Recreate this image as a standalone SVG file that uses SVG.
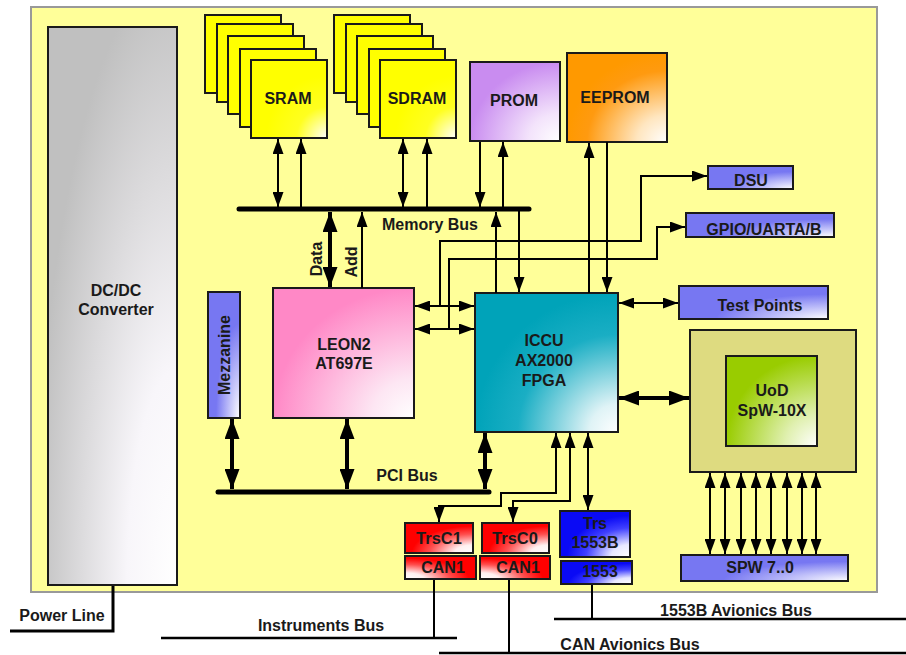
<svg xmlns="http://www.w3.org/2000/svg" width="906" height="655" viewBox="0 0 906 655">
<style>
.t{font-family:"Liberation Sans",Arial,sans-serif;font-weight:bold;font-size:16px;fill:#1a1a1a;text-anchor:middle}
.tb{font-size:16.5px}
.box{stroke:#1a1a1a;stroke-width:2}
.ln{fill:none;stroke:#000;stroke-width:2}
.thk{fill:none;stroke:#000;stroke-width:4}
.bus{fill:none;stroke:#000;stroke-width:5;stroke-linecap:round}
</style>
<defs>
<marker id="ah" viewBox="0 0 15 11" refX="15" refY="5.5" markerWidth="15" markerHeight="11" markerUnits="userSpaceOnUse" orient="auto-start-reverse"><path d="M0,0 L15,5.5 L0,11 z" fill="#000"/></marker>
<marker id="AH" viewBox="0 0 20 15" refX="20" refY="7.5" markerWidth="20" markerHeight="15" markerUnits="userSpaceOnUse" orient="auto-start-reverse"><path d="M0,0 L20,7.5 L0,15 z" fill="#000"/></marker>
<radialGradient id="gY" cx="1" cy="1" r="0.8"><stop offset="0" stop-color="#fff"/><stop offset="0.5" stop-color="#ffff20"/><stop offset="1" stop-color="#ffff00"/></radialGradient>
<radialGradient id="gP" cx="1" cy="1" r="1"><stop offset="0" stop-color="#fff"/><stop offset="0.35" stop-color="#f3e3fb"/><stop offset="1" stop-color="#c98cf0"/></radialGradient>
<radialGradient id="gO" cx="1" cy="1" r="1"><stop offset="0" stop-color="#fff"/><stop offset="0.3" stop-color="#ffe6c0"/><stop offset="0.8" stop-color="#ff9a10"/><stop offset="1" stop-color="#ff9900"/></radialGradient>
<radialGradient id="gK" cx="1" cy="1" r="1"><stop offset="0" stop-color="#fff"/><stop offset="0.3" stop-color="#fde6f3"/><stop offset="1" stop-color="#ff88c6"/></radialGradient>
<radialGradient id="gT" cx="1" cy="1" r="1"><stop offset="0" stop-color="#fff"/><stop offset="0.2" stop-color="#dff3f6"/><stop offset="0.7" stop-color="#1aaec4"/><stop offset="1" stop-color="#00a3b9"/></radialGradient>
<radialGradient id="gG" cx="1" cy="1" r="1.1"><stop offset="0" stop-color="#fff"/><stop offset="0.35" stop-color="#f8f6fa"/><stop offset="1" stop-color="#c0c0c0"/></radialGradient>
<radialGradient id="gU" cx="1" cy="1" r="1"><stop offset="0" stop-color="#fff"/><stop offset="0.35" stop-color="#e0f0b0"/><stop offset="1" stop-color="#99cc00"/></radialGradient>
<radialGradient id="gB" cx="1" cy="1" r="0.75"><stop offset="0" stop-color="#fff"/><stop offset="0.4" stop-color="#c8c8fa"/><stop offset="1" stop-color="#7777f2"/></radialGradient>
<radialGradient id="gR" cx="1" cy="1" r="0.9"><stop offset="0" stop-color="#fff"/><stop offset="0.3" stop-color="#fff0f0"/><stop offset="0.7" stop-color="#ff5050"/><stop offset="1" stop-color="#ff0000"/></radialGradient>
<radialGradient id="gRL" cx="0" cy="1" r="0.9"><stop offset="0" stop-color="#fff"/><stop offset="0.3" stop-color="#fff0f0"/><stop offset="0.7" stop-color="#ff5050"/><stop offset="1" stop-color="#ff0000"/></radialGradient>
<radialGradient id="gBB" cx="1" cy="1" r="0.9"><stop offset="0" stop-color="#fff"/><stop offset="0.3" stop-color="#e8e8ff"/><stop offset="0.7" stop-color="#4040ff"/><stop offset="1" stop-color="#0a0af5"/></radialGradient>
</defs>

<rect x="31" y="7" width="846" height="585" fill="#ffff99" stroke="#999" stroke-width="2"/>

<g id="dcdc"><rect class="box" x="48" y="27" width="129" height="558" fill="url(#gG)"/><text class="t" x="116" y="296">DC/DC</text><text class="t" x="116" y="315">Converter</text></g>

<g id="sram">
<rect class="box" x="205" y="15" width="76" height="78" fill="#ffff00"/>
<rect class="box" x="217" y="24" width="76" height="78" fill="#ffff00"/>
<rect class="box" x="228" y="36" width="76" height="78" fill="#ffff00"/>
<rect class="box" x="240" y="49" width="76" height="78" fill="#ffff00"/>
<rect class="box" x="251" y="60" width="76" height="78" fill="url(#gY)"/>
<text class="t" x="288" y="104">SRAM</text></g>

<g id="sdram">
<rect class="box" x="334" y="15" width="76" height="78" fill="#ffff00"/>
<rect class="box" x="346" y="24" width="76" height="78" fill="#ffff00"/>
<rect class="box" x="357" y="36" width="76" height="78" fill="#ffff00"/>
<rect class="box" x="369" y="49" width="76" height="78" fill="#ffff00"/>
<rect class="box" x="380" y="60" width="76" height="78" fill="url(#gY)"/>
<text class="t" x="417" y="104">SDRAM</text></g>

<g id="prom"><rect class="box" x="470" y="62" width="90" height="79" fill="url(#gP)"/><text class="t" x="514" y="106">PROM</text></g>
<g id="eeprom"><rect class="box" x="567" y="53" width="100" height="89" fill="url(#gO)"/><text class="t" x="615" y="103">EEPROM</text></g>
<g id="dsu"><rect class="box" x="708" y="166" width="85" height="23" fill="url(#gB)"/><text class="t" x="751" y="186">DSU</text></g>
<g id="gpio"><rect class="box" x="686" y="213" width="148" height="24" fill="url(#gB)"/><text class="t" x="764" y="235">GPIO/UARTA/B</text></g>
<g id="testpoints"><rect class="box" x="679" y="286" width="149" height="33" fill="url(#gB)"/><text class="t" x="760" y="311">Test Points</text></g>

<g id="uod"><rect class="box" x="690" y="330" width="166" height="142" fill="#dedb80"/><rect class="box" x="726" y="356" width="91" height="90" fill="url(#gU)"/><text class="t" x="772" y="396">UoD</text><text class="t" x="772" y="416">SpW-10X</text></g>

<g id="spw"><rect class="box" x="681" y="555" width="167" height="26" fill="url(#gB)"/><text class="t" x="760" y="573">SPW 7..0</text></g>

<g id="mezzanine"><rect class="box" x="208" y="292" width="32" height="126" fill="url(#gB)"/><text class="t" transform="translate(230,355) rotate(-90)" x="0" y="0">Mezzanine</text></g>

<g id="leon2"><rect class="box" x="273" y="288" width="141" height="130" fill="url(#gK)"/><text class="t" x="344" y="350">LEON2</text><text class="t" x="344" y="369">AT697E</text></g>

<g id="iccu"><rect class="box" x="475" y="293" width="143" height="139" fill="url(#gT)"/><text class="t" x="544" y="346">ICCU</text><text class="t" x="544" y="366">AX2000</text><text class="t" x="544" y="386">FPGA</text></g>

<g id="trsc1"><rect class="box" x="405" y="523" width="68" height="30" fill="url(#gR)"/><text class="t tb" x="439" y="544">TrsC1</text></g>
<g id="can1a"><rect class="box" x="405" y="556" width="71" height="23" fill="url(#gRL)"/><text class="t" x="443" y="573">CAN1</text></g>
<g id="trsc0"><rect class="box" x="482" y="523" width="67" height="30" fill="url(#gR)"/><text class="t tb" x="515" y="544">TrsC0</text></g>
<g id="can1b"><rect class="box" x="480" y="556" width="70" height="23" fill="url(#gRL)"/><text class="t" x="518" y="573">CAN1</text></g>
<g id="trs1553b"><rect class="box" x="560" y="511" width="70" height="46" fill="url(#gBB)"/><text class="t" x="595" y="529">Trs</text><text class="t" x="595" y="548">1553B</text></g>
<g id="b1553"><rect class="box" x="561" y="561" width="71" height="23" fill="url(#gBB)"/><text class="t" x="600" y="577">1553</text></g>

<g id="labels">
<text class="t" x="430" y="230">Memory Bus</text>
<text class="t" x="407" y="481">PCI Bus</text>
<text class="t" transform="translate(322,259) rotate(-90)">Data</text>
<text class="t" transform="translate(357,262) rotate(-90)">Add</text>
<text class="t" x="62" y="621">Power Line</text>
<text class="t" x="321" y="631">Instruments Bus</text>
<text class="t" x="736" y="616">1553B Avionics Bus</text>
<text class="t" x="630" y="650">CAN Avionics Bus</text>
</g>

<g id="connectors">
<line class="bus" x1="239" y1="209" x2="529" y2="209"/>
<line class="bus" x1="218" y1="492" x2="489" y2="492"/>
<line class="ln" x1="278" y1="139" x2="278" y2="207" marker-start="url(#ah)" marker-end="url(#ah)"/>
<line class="ln" x1="301" y1="207" x2="301" y2="139" marker-end="url(#ah)"/>
<line class="ln" x1="403" y1="139" x2="403" y2="207" marker-start="url(#ah)" marker-end="url(#ah)"/>
<line class="ln" x1="427" y1="207" x2="427" y2="139" marker-end="url(#ah)"/>
<line class="ln" x1="480" y1="142" x2="480" y2="207" marker-end="url(#ah)"/>
<line class="ln" x1="503" y1="207" x2="503" y2="142" marker-end="url(#ah)"/>
<line class="thk" x1="330" y1="212" x2="330" y2="287" marker-start="url(#AH)" marker-end="url(#AH)"/>
<line class="ln" x1="362" y1="288" x2="362" y2="212" marker-end="url(#ah)"/>
<line class="ln" x1="496" y1="293" x2="496" y2="212" marker-end="url(#ah)"/>
<line class="ln" x1="519" y1="209" x2="519" y2="292" marker-end="url(#ah)"/>
<line class="ln" x1="589" y1="293" x2="589" y2="143" marker-end="url(#ah)"/>
<line class="ln" x1="607" y1="142" x2="607" y2="292" marker-end="url(#ah)"/>
<line class="ln" x1="415" y1="306" x2="474" y2="306" marker-start="url(#ah)" marker-end="url(#ah)"/>
<line class="ln" x1="415" y1="329" x2="474" y2="329" marker-start="url(#ah)" marker-end="url(#ah)"/>
<path class="ln" d="M440,306 V241 H641 V176 H707" marker-end="url(#ah)"/>
<path class="ln" d="M449,329 V259 H657 V227 H685" marker-end="url(#ah)"/>
<line class="ln" x1="619" y1="303" x2="678" y2="303" marker-start="url(#ah)" marker-end="url(#ah)"/>
<line class="thk" x1="619" y1="398" x2="689" y2="398" marker-start="url(#AH)" marker-end="url(#AH)"/>
<line class="thk" x1="232" y1="419" x2="232" y2="489" marker-start="url(#AH)" marker-end="url(#AH)"/>
<line class="thk" x1="347" y1="419" x2="347" y2="489" marker-start="url(#AH)" marker-end="url(#AH)"/>
<line class="thk" x1="485" y1="433" x2="485" y2="489" marker-start="url(#AH)" marker-end="url(#AH)"/>
<path class="ln" d="M556,433 V493 H501 V506 H439 V522" marker-start="url(#ah)" marker-end="url(#ah)"/>
<path class="ln" d="M570,433 V501 H513 V522" marker-start="url(#ah)" marker-end="url(#ah)"/>
<line class="ln" x1="588" y1="433" x2="588" y2="510" marker-start="url(#ah)" marker-end="url(#ah)"/>
<line class="ln" x1="710" y1="473" x2="710" y2="554" marker-start="url(#ah)" marker-end="url(#ah)"/>
<line class="ln" x1="725" y1="473" x2="725" y2="554" marker-start="url(#ah)" marker-end="url(#ah)"/>
<line class="ln" x1="741" y1="473" x2="741" y2="554" marker-start="url(#ah)" marker-end="url(#ah)"/>
<line class="ln" x1="756" y1="473" x2="756" y2="554" marker-start="url(#ah)" marker-end="url(#ah)"/>
<line class="ln" x1="771" y1="473" x2="771" y2="554" marker-start="url(#ah)" marker-end="url(#ah)"/>
<line class="ln" x1="787" y1="473" x2="787" y2="554" marker-start="url(#ah)" marker-end="url(#ah)"/>
<line class="ln" x1="802" y1="473" x2="802" y2="554" marker-start="url(#ah)" marker-end="url(#ah)"/>
<line class="ln" x1="816" y1="473" x2="816" y2="554" marker-start="url(#ah)" marker-end="url(#ah)"/>
<path d="M113,586 V631 H10" fill="none" stroke="#000" stroke-width="3"/>
<line x1="161" y1="638" x2="457" y2="638" stroke="#000" stroke-width="2.5"/>
<line class="ln" x1="434" y1="580" x2="434" y2="638"/>
<line x1="439" y1="653" x2="906" y2="653" stroke="#000" stroke-width="2.5"/>
<line class="ln" x1="509" y1="580" x2="509" y2="653"/>
<line x1="554" y1="619" x2="906" y2="619" stroke="#000" stroke-width="2.5"/>
<line class="ln" x1="592" y1="585" x2="592" y2="619"/>
</g>
</svg>
